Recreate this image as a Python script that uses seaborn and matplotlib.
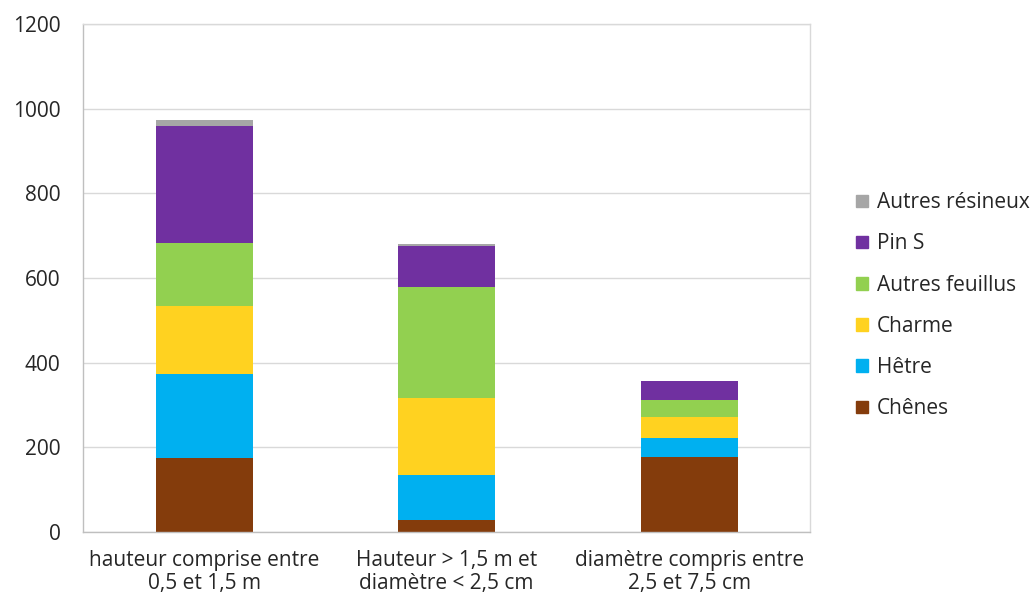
#regeneration forestiere par classe de taille

import numpy as np
import pandas as pd
import matplotlib.pyplot as plt
import seaborn as sns
from matplotlib.patches import Patch

#data
classes = ['hauteur comprise entre\n0,5 et 1,5 m',
           'Hauteur > 1,5 m et\ndiamètre < 2,5 cm',
           'diamètre compris entre\n2,5 et 7,5 cm']
especes = ['Chênes', 'Hêtre', 'Charme', 'Autres feuillus', 'Pin S', 'Autres résineux']
chenes = [176, 30, 178]
hetre = [198, 104, 44]
charme = [159, 182, 50]
autres_feuillus = [150, 263, 41]
pin_s = [275, 97, 43]
autres_resineux = [15, 4, 0]
couleurs = ['#843C0C', '#00B0F0', '#FFD220', '#92D050', '#7030A0', '#A6A6A6']

valeurs = [chenes, hetre, charme, autres_feuillus, pin_s, autres_resineux]
cumul = np.cumsum(np.array(valeurs), axis=0)

sns.set_style('white')
plt.rcParams['font.family'] = ['Open Sans', 'DejaVu Sans']

fig = plt.figure(figsize=(10.35, 5.96), dpi=100)
ax = fig.add_axes([0.080, 0.107, 0.703, 0.853])

#empilement : on trace les cumuls du plus grand au plus petit
for i in range(len(especes) - 1, -1, -1):
    df = pd.DataFrame({'classe': classes, 'total': cumul[i]})
    sns.barplot(data=df, x='classe', y='total', color=couleurs[i],
                width=0.4, saturation=1, linewidth=0, ax=ax, zorder=2)

ax.set_ylim(0, 1200)
ax.set_xlim(-0.5, 2.5)
ax.set_yticks(range(0, 1201, 200))
ax.set_xlabel('')
ax.set_ylabel('')
ax.yaxis.grid(True, color='#D9D9D9', linewidth=1, zorder=0)
ax.set_axisbelow(True)
for s in ax.spines.values():
    s.set_color('#D9D9D9')
    s.set_linewidth(1)
ax.spines['left'].set_color('#BFBFBF')
ax.spines['bottom'].set_color('#BFBFBF')
ax.tick_params(axis='both', length=0, labelsize=15, colors='#262626')
ax.tick_params(axis='y', pad=16)
ax.tick_params(axis='x', pad=13)
for t in ax.get_xticklabels():
    t.set_linespacing(1.12)

handles = [Patch(color=couleurs[i], label=especes[i]) for i in range(len(especes) - 1, -1, -1)]
fig.legend(handles=handles, loc='center left', bbox_to_anchor=(0.809, 0.487),
           frameon=False, fontsize=15, handlelength=0.55, handleheight=0.55,
           handletextpad=0.45, labelspacing=0.97, labelcolor='#262626')

plt.savefig('out.png', dpi=100)
